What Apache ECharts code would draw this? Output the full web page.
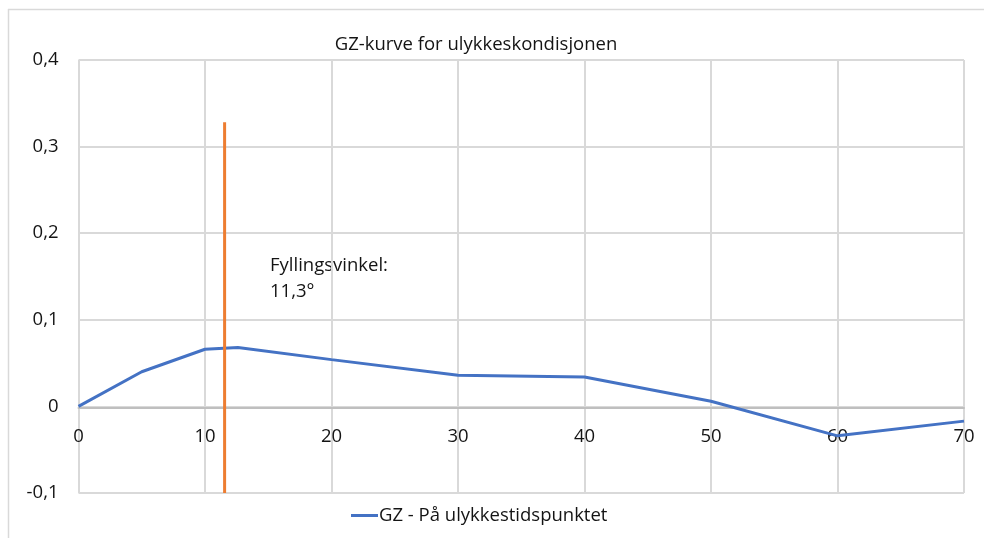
<!DOCTYPE html>
<html>
<head>
<meta charset="utf-8">
<script src="https://cdn.jsdelivr.net/npm/echarts@6/dist/echarts.min.js"></script>
<style>
  html, body { margin: 0; padding: 0; background: #fff; }
  #chart { width: 984px; height: 538px; }
</style>
</head>
<body>
<div id="chart"></div>
<script>
const chartTitle = 'GZ-kurve for ulykkeskondisjonen';
const seriesName = 'GZ - På ulykkestidspunktet';

// heel angle (deg) and GZ (m)
const heelAngles = [0, 5, 10, 12.6, 20, 30, 40, 50, 60, 70];
const gzValues = [0, 0.040, 0.066, 0.068, 0.054, 0.036, 0.034, 0.006, -0.034, -0.017];

// vertical marker for the flooding angle
const markerX = [11.55, 11.55];
const markerY = [0.328, -0.1];
const markerText = 'Fyllingsvinkel:\n11,3°';

const fontFamily = '"Open Sans", sans-serif';
const fontSize = 18.5;
const textColor = '#141414';
const chart = echarts.init(document.getElementById('chart'));

const comma = (v) => String(Math.round(v * 10) / 10).replace('.', ',');

chart.setOption({
  animation: false,
  title: {
    text: chartTitle,
    left: 471,
    top: 30,
    textAlign: 'center',
    textStyle: { fontFamily, fontSize, fontWeight: 'normal', color: textColor },
  },
  legend: {
    bottom: 8,
    left: 346,
    itemWidth: 27,
    itemHeight: 3,
    itemGap: 4,
    data: [{ name: seriesName, icon: 'rect' }],
    textStyle: { fontFamily, fontSize, color: textColor, padding: [0, 0, 0, -4] },
  },
  grid: { left: 78.5, right: 20, top: 60, bottom: 45 },
  xAxis: {
    type: 'value',
    min: 0,
    max: 70,
    interval: 10,
    // axis sits on GZ = 0, i.e. one tenth of the plot height above the bottom
    offset: -85.6,
    axisLine: { onZero: false, lineStyle: { color: '#bfbfbf', width: 2 } },
    axisTick: { show: false },
    axisLabel: { fontFamily, fontSize, color: textColor, margin: 20 },
    splitLine: { show: true, lineStyle: { color: '#d9d9d9', width: 2 } },
  },
  yAxis: {
    type: 'value',
    min: -0.1,
    max: 0.4,
    interval: 0.1,
    axisLine: { show: false },
    axisTick: { show: false },
    axisLabel: { fontFamily, fontSize, color: textColor, margin: 20, formatter: comma },
    splitLine: { show: true, lineStyle: { color: '#d9d9d9', width: 2 } },
  },
  series: [
    {
      name: seriesName,
      type: 'line',
      data: heelAngles.map((x, i) => [x, gzValues[i]]),
      symbol: 'none',
      lineStyle: { color: '#4472c4', width: 3 },
      itemStyle: { color: '#4472c4' },
      z: 3,
    },
    {
      name: 'Fyllingsvinkel',
      type: 'line',
      data: markerX.map((x, i) => [x, markerY[i]]),
      symbol: 'none',
      lineStyle: { color: '#ed7d31', width: 3 },
      z: 4,
    },
  ],
  graphic: [
    {
      type: 'line',
      shape: { x1: 8, y1: 9.5, x2: 984, y2: 9.5 },
      style: { stroke: '#d9d9d9', lineWidth: 1.5 },
    },
    {
      type: 'line',
      shape: { x1: 8.5, y1: 9, x2: 8.5, y2: 538 },
      style: { stroke: '#d9d9d9', lineWidth: 1.5 },
    },
    {
      type: 'text',
      left: 270,
      top: 253,
      style: { text: markerText, fontFamily, fontSize, fill: textColor, lineHeight: 26 },
    },
  ],
});
</script>
</body>
</html>
